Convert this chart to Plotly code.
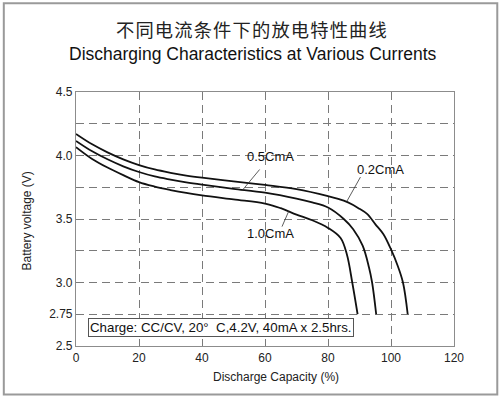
import plotly.graph_objects as go

# Data
cap_02 = [0, 5, 10, 15, 20, 25, 30, 35, 40, 50, 60, 70, 80, 85, 88, 90, 92.4, 95, 97.6, 100, 102, 103.8, 105.3]
v_02 = [4.17, 4.09, 4.025, 3.97, 3.925, 3.89, 3.864, 3.842, 3.825, 3.797, 3.768, 3.735, 3.68, 3.645, 3.61, 3.58, 3.54, 3.46, 3.38, 3.26, 3.14, 3.0, 2.75]

cap_05 = [0, 5, 10, 15, 20, 25, 30, 35, 40, 50, 60, 70, 75, 80, 85, 88, 91, 93, 94, 95.3]
v_05 = [4.115, 4.035, 3.97, 3.915, 3.87, 3.835, 3.81, 3.788, 3.77, 3.738, 3.707, 3.66, 3.63, 3.59, 3.50, 3.42, 3.29, 3.12, 3.0, 2.75]

cap_10 = [0, 5, 10, 15, 20, 25, 30, 35, 40, 50, 60, 65, 70, 75, 80, 84, 86, 87.7, 89.4]
v_10 = [4.066, 3.975, 3.905, 3.845, 3.79, 3.755, 3.728, 3.705, 3.686, 3.654, 3.622, 3.585, 3.535, 3.49, 3.43, 3.35, 3.22, 3.0, 2.75]

x_ticks = [0, 20, 40, 60, 80, 100, 120]
y_ticks = [2.5, 2.75, 3.0, 3.25, 3.5, 3.75, 4.0, 4.25, 4.5]
y_tick_text = ["2.5", "2.75", "3.0", "", "3.5", "", "4.0", "", "4.5"]

series = [("0.2CmA", cap_02, v_02), ("0.5CmA", cap_05, v_05), ("1.0CmA", cap_10, v_10)]

FONT = "Liberation Sans, Arial, sans-serif"
fig = go.Figure()
for name, xs, ys in series:
    fig.add_trace(go.Scatter(x=xs, y=ys, mode="lines", name=name,
                             line=dict(color="#111111", width=1.8, shape="spline", smoothing=1.0),
                             showlegend=False, hoverinfo="skip"))

grid = dict(showgrid=True, gridcolor="#7a7a7a", gridwidth=1, griddash="8px,5px",
            showline=True, linecolor="#8c8c8c", linewidth=1.2, mirror=True,
            ticks="", zeroline=False, tickfont=dict(family=FONT, size=12, color="#222"))

fig.update_xaxes(range=[0, 120], tickvals=x_ticks, **grid)
fig.update_yaxes(range=[2.5, 4.5], tickvals=y_ticks, ticktext=y_tick_text, **grid)

fig.update_layout(
    width=500, height=397,
    margin=dict(l=76, r=46, t=92, b=51),
    plot_bgcolor="white", paper_bgcolor="white",
    font=dict(family=FONT, size=12, color="#222"),
    showlegend=False,
)

# Labels with leader lines (data coords)
labels = [
    ("0.5CmA", 61.7, 3.989, 58.3, 3.89, 53.1, 3.735),
    ("0.2CmA", 96.6, 3.886, 90.3, 3.83, 86.0, 3.64),
    ("1.0CmA", 61.7, 3.386, 65.4, 3.44, 67.5, 3.56),
]
for txt, lx, ly, x0, y0, x1, y1 in labels:
    fig.add_annotation(x=lx, y=ly, text=txt, showarrow=False,
                       font=dict(family=FONT, size=13, color="#111"))
    fig.add_shape(type="line", x0=x0, y0=y0, x1=x1, y1=y1, xref="x", yref="y",
                  line=dict(color="#333", width=0.8))

# Charge condition box
fig.add_annotation(x=46, y=2.643, text="Charge: CC/CV, 20°  C,4.2V, 40mA x 2.5hrs.",
                   showarrow=False, font=dict(family=FONT, size=13.3, color="#111"),
                   bordercolor="#555", borderwidth=1, borderpad=1, bgcolor="white")

# Titles
fig.add_annotation(x=0.5, y=1.0, xref="paper", yref="paper", xanchor="center", yanchor="middle",
                   xshift=-14, yshift=63, showarrow=False,
                   text="\u200a".join("不同电流条件下的放电特性曲线"),
                   font=dict(family="Noto Sans CJK SC", size=18.3, color="#222"))
fig.add_annotation(x=0.5, y=1.0, xref="paper", yref="paper", xanchor="center", yanchor="middle",
                   xshift=-12, yshift=38, showarrow=False,
                   text="Discharging Characteristics at Various Currents",
                   font=dict(family=FONT, size=17.5, color="#111"))
# Axis titles
fig.add_annotation(x=0, y=0.49, xref="paper", yref="paper", xanchor="center", yanchor="middle",
                   xshift=-49, showarrow=False, textangle=-90,
                   text="Battery voltage (V)", font=dict(family=FONT, size=12, color="#222"))
fig.add_annotation(x=0.5, y=0, xref="paper", yref="paper", xanchor="center", yanchor="middle",
                   xshift=11, yshift=-31, showarrow=False,
                   text="Discharge Capacity (%)", font=dict(family=FONT, size=12, color="#222"))

# Outer frame
fig.add_shape(type="rect", xref="paper", yref="paper",
              x0=-0.191, x1=1.1145, y0=-0.1906, y1=1.3497,
              line=dict(color="#9a9a9a", width=2), layer="below")

fig.write_html("out.html", config={"displayModeBar": False},
               post_script="document.body.style.margin='0px';")
